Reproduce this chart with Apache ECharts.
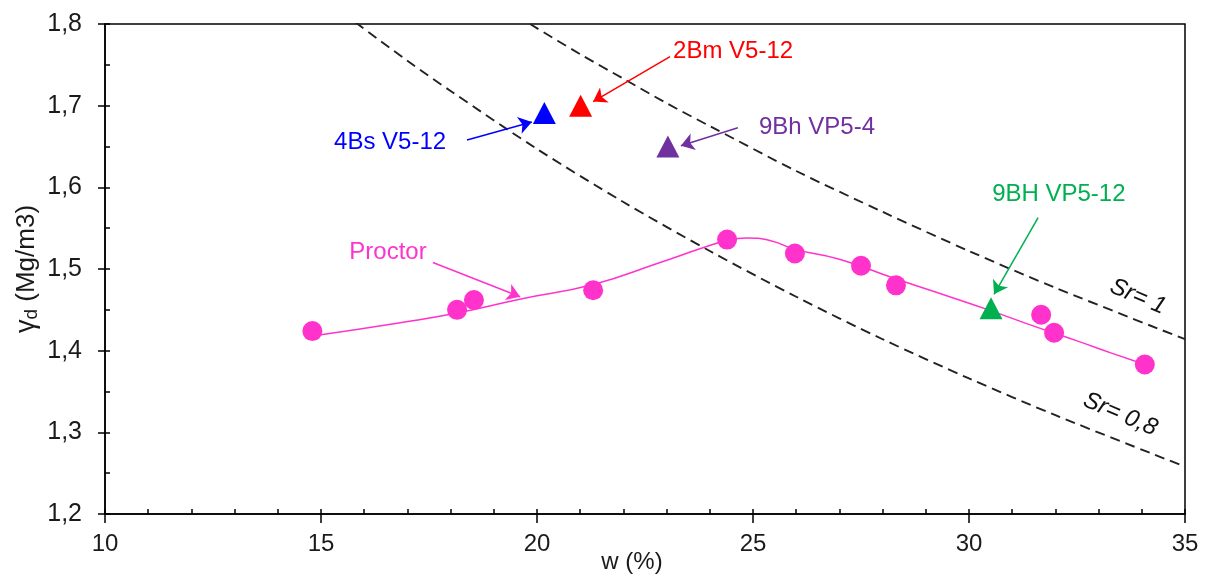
<!DOCTYPE html>
<html>
<head>
<meta charset="utf-8">
<script src="https://cdn.jsdelivr.net/npm/echarts@6/dist/echarts.min.js"></script>
<style>html,body{margin:0;padding:0;background:#fff}#c{width:1208px;height:576px}</style>
</head>
<body>
<div id="c"></div>
<script>
// ---- data ----
const X_TICKS = [10, 15, 20, 25, 30, 35];
const Y_TICKS = [1.2, 1.3, 1.4, 1.5, 1.6, 1.7, 1.8];

const PROCTOR_W = [14.8, 18.15, 18.54, 21.3, 24.4, 25.97, 27.5, 28.31, 31.67, 31.97, 34.07];
const PROCTOR_G = [1.424, 1.450, 1.462, 1.474, 1.536, 1.519, 1.504, 1.480, 1.444, 1.422, 1.383];

const CURVE_W = [14.8, 16.8, 18.15, 19.6, 21.3, 22.85, 23.84, 24.4, 24.85, 25.39, 25.97, 27.0, 28.3, 29.5, 30.5, 31.5, 32.5, 33.3, 34.07];
const CURVE_G = [1.418, 1.434, 1.446, 1.463, 1.481, 1.508, 1.526, 1.535, 1.538, 1.535, 1.524, 1.512, 1.488, 1.467, 1.449, 1.430, 1.412, 1.397, 1.383];

const SR1_W = [19.84, 21, 22, 23, 24, 26, 28, 30, 32, 35];
const SR1_G = [1.800, 1.763, 1.733, 1.703, 1.675, 1.620, 1.570, 1.522, 1.477, 1.414];
const SR08_W = [15.8, 17, 18, 20, 22, 24, 26, 28, 30, 32, 35];
const SR08_G = [1.802, 1.755, 1.718, 1.647, 1.582, 1.522, 1.466, 1.414, 1.366, 1.321, 1.258];

const SAMPLES = ['4Bs V5-12', '2Bm V5-12', '9Bh VP5-4', '9BH VP5-12'];
const SAMPLE_W = [20.17, 21.01, 23.03, 30.51];
const SAMPLE_G = [1.691, 1.700, 1.650, 1.452];
const SAMPLE_COLORS = ['#0000FF', '#FF0000', '#7030A0', '#00B050'];
// label anchor (centre) and arrow start/tip per sample
const LABEL_W = [16.60, 24.54, 26.48, 32.08];
const LABEL_G = [1.655, 1.766, 1.673, 1.591];
const ARROW_FROM = [[18.38, 1.658], [23.08, 1.760], [24.65, 1.673], [31.60, 1.563]];
const ARROW_TO = [[19.88, 1.680], [21.30, 1.705], [23.33, 1.651], [30.58, 1.469]];

const PROCTOR_LABEL = ['Proctor', 16.55, 1.520];
const PROCTOR_ARROW = [[17.59, 1.508], [19.61, 1.466]];
const SR_LABELS = ['Sr= 1', 'Sr= 0,8'];
const SR_LABEL_W = [33.91, 33.50];
const SR_LABEL_G = [1.466, 1.322];

const PINK = '#FF33CC';
const FONT = '"Liberation Sans", Arial, sans-serif';
const FS = 24;
const TXT = '#1a1a1a';

const zip = (a, b) => a.map((v, i) => [v, b[i]]);
const fmt = v => (Math.round(v * 10) / 10).toFixed(1).replace('.', ',');

function arrow(color, from, to) {
  return {
    silent: true, animation: false, symbol: ['none', 'arrow'], symbolSize: 13,
    label: { show: false }, emphasis: { disabled: true },
    lineStyle: { color, width: 1.5, type: 'solid', opacity: 1 },
    itemStyle: { color },
    data: [[{ coord: from }, { coord: to }]]
  };
}

const series = [];
[[SR1_W, SR1_G], [SR08_W, SR08_G]].forEach(([w, g]) => series.push({
  type: 'line', data: zip(w, g), showSymbol: false, smooth: 0.3, silent: true,
  lineStyle: { color: '#222', width: 1.9, type: [10, 6] }, z: 1
}));
series.push({
  type: 'line', data: zip(CURVE_W, CURVE_G), showSymbol: false, smooth: 0.5, silent: true,
  lineStyle: { color: PINK, width: 1.5 }, z: 2,
  markLine: arrow(PINK, PROCTOR_ARROW[0], PROCTOR_ARROW[1])
});
series.push({
  type: 'scatter', data: zip(PROCTOR_W, PROCTOR_G), symbol: 'circle', symbolSize: 20,
  itemStyle: { color: PINK, opacity: 1 }, z: 3
});
SAMPLES.forEach((name, i) => {
  series.push({
    type: 'scatter', name, data: [[SAMPLE_W[i], SAMPLE_G[i]]], symbol: 'triangle', symbolSize: [23, 22],
    itemStyle: { color: SAMPLE_COLORS[i], opacity: 1 }, z: 4,
    markLine: arrow(SAMPLE_COLORS[i], ARROW_FROM[i], ARROW_TO[i])
  });
});
// text annotations
const labelItems = SAMPLES.map((t, i) => ({
  value: [LABEL_W[i], LABEL_G[i]],
  label: { formatter: t, color: SAMPLE_COLORS[i] }
}));
labelItems.push({ value: [PROCTOR_LABEL[1], PROCTOR_LABEL[2]], label: { formatter: PROCTOR_LABEL[0], color: PINK } });
SR_LABELS.forEach((t, i) => labelItems.push({
  value: [SR_LABEL_W[i], SR_LABEL_G[i]],
  label: { formatter: t, color: '#111', fontStyle: 'italic', rotate: -23 }
}));
series.push({
  type: 'scatter', data: labelItems, symbolSize: 1, itemStyle: { color: 'rgba(0,0,0,0)', opacity: 1 }, silent: true, z: 5,
  label: { show: true, position: 'inside', fontFamily: FONT, fontSize: FS, opacity: 1 }
});

const option = {
  animation: false,
  backgroundColor: '#fff',
  grid: {
    left: 105, right: 23, top: 24, bottom: 62, outerBoundsMode: 'none', containLabel: false,
    show: true, borderColor: '#000', borderWidth: 1.5, backgroundColor: 'transparent'
  },
  xAxis: [{
    type: 'value', min: X_TICKS[0], max: X_TICKS[X_TICKS.length - 1], interval: 5,
    name: 'w (%)', nameLocation: 'middle', nameGap: 36, nameMoveOverlap: false,
    nameTextStyle: { fontFamily: FONT, fontSize: FS, color: TXT, padding: [0, 26, 0, 0] },
    axisLine: { lineStyle: { color: '#000', width: 1.5 } },
    axisTick: { show: true, length: 9, lineStyle: { color: '#000', width: 1.5 } },
    axisLabel: { fontFamily: FONT, fontSize: FS, color: TXT, margin: 18 },
    splitLine: { show: false }
  }, {
    type: 'value', position: 'bottom', min: X_TICKS[0], max: X_TICKS[X_TICKS.length - 1], interval: 1,
    axisLine: { show: false },
    axisTick: { show: true, inside: true, length: 5, lineStyle: { color: '#000', width: 1.5 } },
    axisLabel: { show: false }, splitLine: { show: false }
  }],
  yAxis: [{
    type: 'value', min: Y_TICKS[0], max: Y_TICKS[Y_TICKS.length - 1], interval: 0.1,
    name: '{g|γ}{s|d} (Mg/m3)', nameLocation: 'middle', nameGap: 64, nameMoveOverlap: false,
    nameTextStyle: {
      fontFamily: FONT, fontSize: 26, color: TXT,
      rich: { g: { fontFamily: FONT, fontSize: 27, color: TXT },
              s: { fontFamily: FONT, fontSize: 19, color: TXT, verticalAlign: 'bottom', padding: [9, 0, 0, 0] } }
    },
    axisLine: { show: true, lineStyle: { color: '#000', width: 1.5 } },
    axisTick: { show: true, length: 7, lineStyle: { color: '#000', width: 1.5 } },
    axisLabel: { fontFamily: FONT, fontSize: 25, color: TXT, margin: 23, formatter: fmt },
    splitLine: { show: false }
  }, {
    type: 'value', position: 'left', min: Y_TICKS[0], max: Y_TICKS[Y_TICKS.length - 1], interval: 0.05,
    axisLine: { show: false },
    axisTick: { show: true, inside: true, length: 5, lineStyle: { color: '#000', width: 1.5 } },
    axisLabel: { show: false }, splitLine: { show: false }
  }],
  series
};
const chart = echarts.init(document.getElementById('c'), null, { renderer: 'canvas' });
chart.setOption(option);
</script>
</body>
</html>
